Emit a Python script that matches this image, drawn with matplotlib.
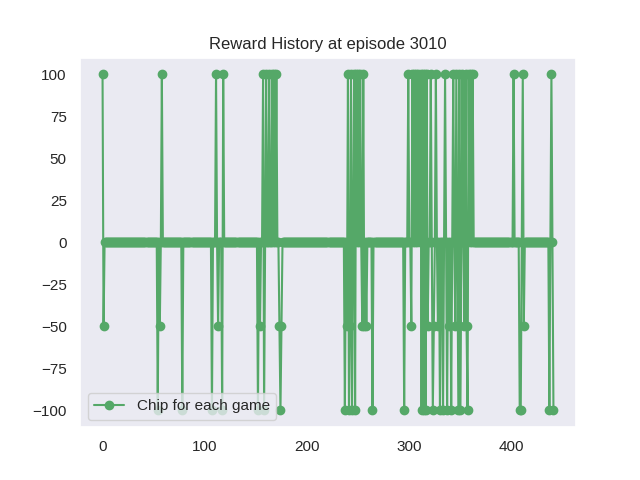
import numpy as np
import matplotlib
matplotlib.use("Agg")
import matplotlib.pyplot as plt
import seaborn as sns

sns.set_theme(style="dark")
plt.rcParams['font.family'] = ['Liberation Sans', 'DejaVu Sans']

n_games = 442
# nonzero rewards: episode index -> chip value (all others are 0)
event_idx = [0, 1, 54, 56, 58, 78, 107, 111, 113, 117, 118,
             152, 154, 157, 158, 160, 163, 166, 168, 170, 173, 174, 175,
             237, 239, 240, 241, 242, 243, 244, 246, 247, 248, 250, 252, 254, 255, 256, 258, 264,
             295, 299, 302, 303, 305, 307, 309, 311, 312, 313, 314, 315, 316, 317, 318,
             321, 323, 324, 326, 328, 330, 333, 335, 337, 339, 341,
             343, 345, 346, 348, 349, 350, 352, 354, 355, 356, 357, 358, 360, 362,
             402, 408, 409, 411, 412, 437, 439, 441]
event_val = [100, -50, -100, -50, 100, -100, -100, 100, -50, -100, 100,
             -100, -50, 100, -100, 100, 100, 100, 100, 100, -50, -100, -50,
             -100, -50, 100, -100, -50, 100, -100, 100, -100, 100, 100, 100, -50, 100, -50, -50, -100,
             -100, 100, -50, 100, 100, 100, 100, 100, -100, 100, -100, 100, -100, 100, -50,
             100, -100, -50, 100, -50, -100, -100, 100, -100, -50, -100,
             100, -50, 100, -100, 100, -100, 100, -50, 100, -50, -100, 100, 100, 100,
             100, -100, -100, 100, -50, -100, 100, -100]

rewards = np.zeros(n_games)
rewards[event_idx] = event_val
episodes = np.arange(n_games)

fig, ax = plt.subplots(figsize=(6.4, 4.8), dpi=100)
ax.plot(episodes, rewards, marker='o', color='#55a868', label='Chip for each game')
ax.set_title('Reward History at episode 3010')
ax.legend(loc='lower left')
fig.savefig('out.png')
